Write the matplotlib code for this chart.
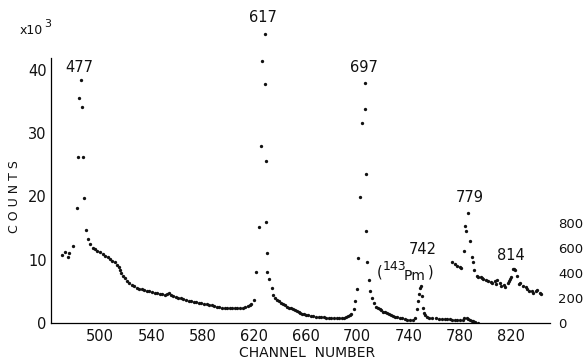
import matplotlib
matplotlib.use("Agg")
import matplotlib.pyplot as plt
import numpy as np

# main spectrum: channel, counts (x10^3)
channel = [
  470.3, 472.8, 475.4, 476.2, 479.3, 481.9, 483.2, 484.0, 485.2, 485.8,
  486.5, 487.8, 489.1, 490.9, 492.2, 494.3, 496.1, 497.9, 500.0, 502.1,
  503.9, 506.0, 507.8, 509.8, 511.7, 513.5, 514.8, 515.5, 516.8, 518.1,
  519.4, 521.2, 522.8, 524.6, 526.4, 528.5, 530.5, 532.5, 534.5, 536.5,
  538.5, 540.5, 542.5, 544.5, 546.5, 548.5, 550.5, 552.5, 554.0, 555.5,
  557.0, 559.0, 561.0, 563.0, 565.0, 567.0, 569.0, 571.0, 573.0, 575.0,
  577.0, 579.0, 581.0, 583.0, 585.0, 587.0, 589.0, 591.0, 593.0, 595.0,
  597.0, 599.0, 601.0, 603.0, 605.0, 607.0, 609.0, 611.0, 613.0, 615.0,
  616.5, 617.8, 619.8, 621.4, 623.5, 625.0, 626.4, 628.2, 628.7, 628.9,
  629.2, 629.7, 630.2, 631.5, 633.5, 635.0, 636.5, 638.0, 639.5, 641.0,
  642.5, 644.0, 645.5, 647.0, 648.5, 650.0, 651.5, 653.0, 654.5, 656.0,
  657.5, 659.0, 660.5, 662.0, 664.0, 666.0, 668.0, 670.0, 672.0, 674.0,
  676.0, 678.0, 680.0, 682.0, 684.0, 686.0, 688.0, 690.0, 691.5, 693.0,
  694.5, 695.5, 697.3, 698.6, 699.9, 700.6, 702.5, 703.7, 705.8, 706.4,
  706.8, 707.1, 707.6, 709.2, 710.2, 711.5, 713.0, 714.9, 716.2, 717.5,
  718.8, 720.0, 721.5, 723.0, 724.5, 726.0, 727.8, 729.5, 731.0, 733.0,
  735.0, 737.0, 739.0, 741.0, 743.3, 745.4, 746.5, 747.5, 748.3, 749.2,
  750.0, 750.5, 751.1, 752.0, 753.0, 754.2, 756.3, 758.5, 761.0, 764.0,
  766.0, 768.0, 770.0, 772.0, 774.0, 776.0, 778.0, 780.0, 782.0, 783.5,
  785.3, 786.5, 787.5, 789.0, 790.0, 792.0, 793.8,
]
counts = [
  10.7, 11.2, 10.5, 11.1, 12.2, 18.1, 26.3, 35.5, 38.4, 34.1,
  26.2, 19.8, 14.7, 13.2, 12.5, 11.9, 11.7, 11.4, 11.2, 10.9,
  10.6, 10.4, 10.1, 9.8, 9.6, 9.2, 8.8, 8.4, 7.9, 7.5,
  7.1, 6.7, 6.3, 6.0, 5.8, 5.6, 5.4, 5.3, 5.2, 5.1,
  5.0, 4.9, 4.8, 4.7, 4.6, 4.55, 4.5, 4.6, 4.7, 4.4,
  4.3, 4.1, 4.0, 3.9, 3.75, 3.6, 3.5, 3.4, 3.3, 3.25,
  3.2, 3.1, 3.05, 3.0, 2.9, 2.8, 2.7, 2.6, 2.5, 2.45,
  2.4, 2.35, 2.3, 2.3, 2.3, 2.3, 2.35, 2.4, 2.5, 2.7,
  2.85, 3.0, 3.65, 8.0, 15.2, 28.0, 41.4, 45.7, 37.7, 25.6,
  15.9, 11.1, 8.1, 6.9, 5.5, 4.5, 4.0, 3.7, 3.4, 3.2,
  3.0, 2.8, 2.6, 2.45, 2.3, 2.15, 2.0, 1.9, 1.75, 1.6,
  1.5, 1.4, 1.3, 1.25, 1.15, 1.1, 1.0, 0.95, 0.9, 0.9,
  0.85, 0.85, 0.8, 0.8, 0.75, 0.75, 0.8, 0.85, 0.95, 1.1,
  1.25, 1.4, 2.2, 3.4, 5.3, 10.3, 19.9, 31.6, 38.0, 33.8,
  23.6, 14.6, 9.7, 6.8, 5.1, 4.0, 3.2, 2.5, 2.35, 2.2,
  2.0, 1.8, 1.7, 1.55, 1.45, 1.3, 1.1, 1.0, 0.95, 0.85,
  0.75, 0.65, 0.55, 0.5, 0.4, 0.8, 2.2, 3.5, 4.6, 5.5,
  5.8, 4.3, 2.4, 1.6, 1.2, 1.0, 0.85, 0.78, 0.72, 0.7,
  0.65, 0.62, 0.6, 0.58, 0.55, 0.52, 0.5, 0.48, 0.55, 0.74,
  0.78, 0.7, 0.45, 0.35, 0.25, 0.12, 0.05,
]

# expanded high-channel part, right-hand scale
channel_hi = [774, 776, 778, 780, 781, 783, 784, 785, 786, 788,
              789, 790, 791, 793, 794, 796, 797, 798, 800, 802,
              804, 805, 807, 808, 809, 811, 812, 814, 815, 817,
              818, 819, 820, 821, 822, 823, 824, 826, 827, 829,
              831, 832, 834, 836, 837, 839, 840, 842, 843]
counts_hi = [490, 472, 456, 446, 440, 576, 776, 736, 880, 650,
             525, 483, 424, 376, 368, 363, 355, 347, 341, 336,
             328, 320, 331, 309, 341, 315, 296, 299, 283, 315,
             331, 349, 363, 428, 430, 425, 376, 309, 315, 296,
             283, 267, 256, 251, 243, 256, 261, 243, 235]

xticks = [500, 540, 580, 620, 660, 700, 740, 780, 820]
yticks = [0, 10, 20, 30, 40]
yticks_hi = [0, 200, 400, 600, 800]

W, H = 585, 362
plt.rcParams["font.family"] = "DejaVu Sans"
fig = plt.figure(figsize=(W / 100, H / 100), dpi=100)
ax = fig.add_axes([51 / W, (H - 323) / H, 499 / W, 310 / H])
ink = "#111111"

ax.plot(channel, counts, "o", ms=2.4, color=ink, mec="none")
ax.set_xlim(462, 850)
ax.set_ylim(0, 49)
ax.set_xticks(xticks)
ax.set_yticks(yticks)
ax.tick_params(length=0, labelsize=10.5, colors=ink)
ax.tick_params(axis="x", pad=4)
ax.tick_params(axis="y", pad=3)
for s in ["top", "right"]:
  ax.spines[s].set_visible(False)
ax.spines["left"].set_bounds(0, 41.9)
ax.spines["left"].set_linewidth(0.9)
ax.spines["bottom"].set_linewidth(0.9)

# right scale: 800 counts spans ~15.9 x10^3 of the left scale
ax2 = ax.twinx()
ax2.plot(channel_hi, counts_hi, "o", ms=2.4, color=ink, mec="none")
ax2.set_ylim(0, 49 * 800 / 15.87)
ax2.set_yticks(yticks_hi)
ax2.tick_params(length=0, labelsize=9.5, colors=ink, pad=6)
for s in ["top", "right", "left", "bottom"]:
  ax2.spines[s].set_visible(False)

# annotations
def px(x, y):
  return (x / W, 1 - y / H)

fig.text(*px(20, 31), "x10", fontsize=9, color=ink, va="center")
fig.text(*px(44, 24), "3", fontsize=8, color=ink, va="center")
fig.text(*px(14, 197), "C O U N T S", fontsize=9, color=ink, rotation=90,
         ha="center", va="center")
fig.text(*px(307, 353), "CHANNEL  NUMBER", fontsize=10, color=ink,
         ha="center", va="center")

peaks = ["477", "617", "697", "742", "779", "814"]
peak_pos = [(79, 68), (263, 18), (364, 67), (423, 250), (470, 197), (511, 255)]
for t, (x, y) in zip(peaks, peak_pos):
  fig.text(*px(x, y), t, fontsize=10.5, color=ink, ha="center", va="center")
fig.text(*px(377, 272), "(", fontsize=10.5, color=ink, va="center")
fig.text(*px(383, 267), "143", fontsize=9, color=ink, va="center")
fig.text(*px(404, 276), "Pm", fontsize=10, color=ink, va="center")
fig.text(*px(428, 272), ")", fontsize=10.5, color=ink, va="center")

plt.savefig("out.png", dpi=100)
